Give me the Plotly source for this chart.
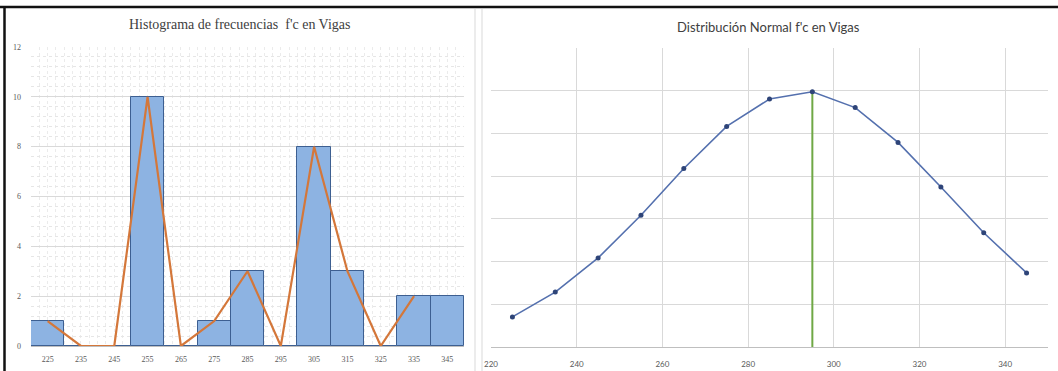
import plotly.graph_objects as go

# Frequency histogram of f'c in beams (class marks and counts)
class_marks = [225, 235, 245, 255, 265, 275, 285, 295, 305, 315, 325, 335, 345]
class_labels = ["225", "235", "245", "255", "265", "275", "285", "295", "305", "315", "325", "335", "345"]
frequencies = [1, 0, 0, 10, 0, 1, 3, 0, 8, 3, 0, 2, 2]

# Frequency polygon drawn over the bars
polygon_marks = [225, 235, 245, 255, 265, 275, 285, 295, 305, 315, 325, 335]
polygon_freq = [1, 0, 0, 10, 0, 1, 3, 0, 8, 3, 0, 2]

# Normal distribution curve evaluated at the class marks
normal_x = [225, 235, 245, 255, 265, 275, 285, 295, 305, 315, 325, 335, 345]
normal_y = [0.00141, 0.00257, 0.00417, 0.00617, 0.00836, 0.01033, 0.01161,
            0.01195, 0.01121, 0.00958, 0.00749, 0.00535, 0.00347]

# Mean of the distribution
mean_x = 295
mean_y = normal_y[normal_x.index(mean_x)]

W, H = 1058, 371


def px(x):
    return x / W


def py(y):
    return 1 - y / H


fig = go.Figure()

# ---- Left panel: histogram ----
fig.add_trace(go.Bar(
    x=class_marks, y=frequencies, width=10,
    marker=dict(color="#8DB3E2", line=dict(color="#3D5F91", width=1)),
    xaxis="x", yaxis="y", showlegend=False,
))
fig.add_trace(go.Scatter(
    x=polygon_marks, y=polygon_freq, mode="lines",
    line=dict(color="#D4773A", width=2.2),
    xaxis="x", yaxis="y", showlegend=False,
))

# ---- Right panel: normal curve ----
fig.add_trace(go.Scatter(
    x=[mean_x, mean_x], y=[0, mean_y], mode="lines",
    line=dict(color="#6FA845", width=2),
    xaxis="x2", yaxis="y2", showlegend=False,
))
fig.add_trace(go.Scatter(
    x=normal_x, y=normal_y, mode="lines+markers",
    line=dict(color="#5470AE", width=1.6),
    marker=dict(color="#2E4478", size=5),
    xaxis="x2", yaxis="y2", showlegend=False,
))

tick_font_serif = dict(family="Liberation Serif", size=8, color="#595959")
tick_font_sans = dict(family="Lato", size=8, color="#595959")

fig.update_layout(
    width=W, height=H, autosize=False,
    margin=dict(l=0, r=0, t=0, b=0, autoexpand=False),
    paper_bgcolor="white", plot_bgcolor="white",
    bargap=0,
    xaxis=dict(
        domain=[px(31), px(464)], range=[220, 350],
        tickmode="array", tickvals=class_marks, ticktext=class_labels,
        tickfont=tick_font_serif, ticks="", showgrid=False, zeroline=False,
        showline=True, linecolor="#BFBFBF", linewidth=1,
        minor=dict(dtick=2.5, tick0=220, showgrid=True, gridcolor="#EBEBEB",
                   griddash="dot", gridwidth=1),
        ticklabelstandoff=5, automargin=False,
        fixedrange=True,
    ),
    yaxis=dict(
        domain=[py(346), py(47)], range=[0, 12],
        tickmode="linear", tick0=0, dtick=2,
        tickfont=tick_font_serif, ticks="",
        showgrid=True, gridcolor="#D9D9D9", gridwidth=1, zeroline=False,
        minor=dict(dtick=0.4, tick0=0, showgrid=True, gridcolor="#E6E6E6",
                   griddash="dot", gridwidth=1),
        ticklabelstandoff=9, automargin=False,
        fixedrange=True,
    ),
    xaxis2=dict(
        domain=[px(491), px(1048)], range=[220, 350],
        tickmode="linear", tick0=220, dtick=20,
        tickfont=tick_font_sans, ticks="",
        showgrid=True, gridcolor="#D9D9D9", gridwidth=1, zeroline=False,
        showline=True, linecolor="#BFBFBF", linewidth=1,
        ticklabelstandoff=9, automargin=False,
        anchor="y2", fixedrange=True,
    ),
    yaxis2=dict(
        domain=[py(347), py(48)], range=[0, 0.014],
        tickmode="linear", tick0=0, dtick=0.002,
        showticklabels=False, ticks="",
        showgrid=True, gridcolor="#D9D9D9", gridwidth=1, zeroline=False,
        automargin=False,
        anchor="x2", fixedrange=True,
    ),
    annotations=[
        dict(text="Histograma de frecuencias  f'c en Vigas", x=px(239), y=py(25),
             xref="paper", yref="paper", showarrow=False,
             xanchor="center", yanchor="middle",
             font=dict(family="Liberation Serif", size=14, color="#404040")),
        dict(text="Distribución Normal f'c en Vigas", x=px(768), y=py(27),
             xref="paper", yref="paper", showarrow=False,
             xanchor="center", yanchor="middle",
             font=dict(family="Lato", size=13, color="#404040")),
    ],
    shapes=[
        # outer frame (top and left)
        dict(type="line", xref="paper", yref="paper", x0=0, x1=1, y0=py(7), y1=py(7),
             line=dict(color="#111111", width=2.5)),
        dict(type="line", xref="paper", yref="paper", x0=px(4.5), x1=px(4.5), y0=0, y1=py(6),
             line=dict(color="#111111", width=2.5)),
        # panel separators
        dict(type="line", xref="paper", yref="paper", x0=px(475), x1=px(475), y0=0, y1=py(9),
             line=dict(color="#D9D9D9", width=1)),
        dict(type="line", xref="paper", yref="paper", x0=px(482), x1=px(482), y0=0, y1=py(9),
             line=dict(color="#D9D9D9", width=1)),
    ],
)

fig.write_html("out.html")
